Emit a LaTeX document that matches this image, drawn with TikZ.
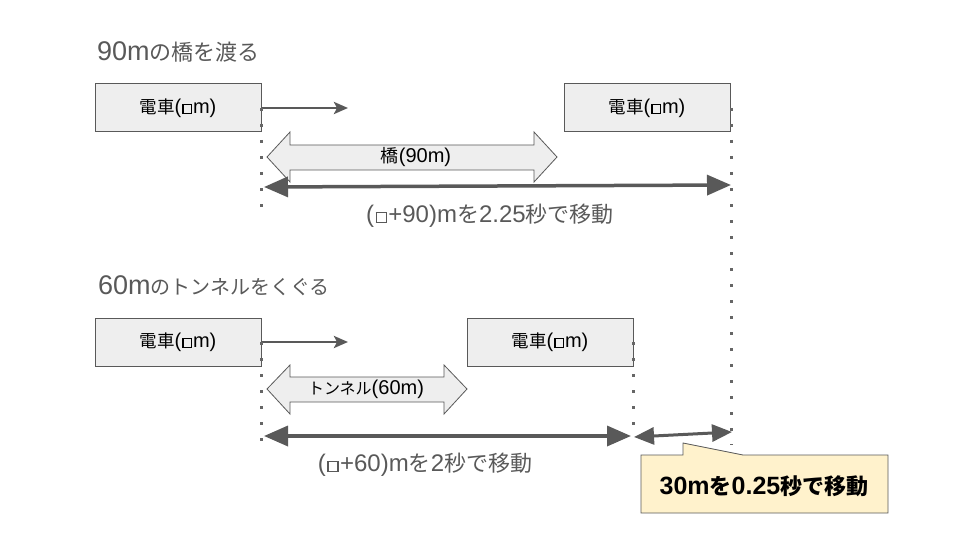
\documentclass[tikz,border=0pt]{standalone}
\usepackage{fontspec}
\setmainfont{Liberation Sans}
\newfontfamily\jpfont{Noto Sans CJK JP}
\usetikzlibrary{arrows.meta}
\definecolor{dk}{HTML}{595959}
\definecolor{dotc}{HTML}{666666}
\definecolor{boxfill}{HTML}{EEEEEE}
\definecolor{notefill}{HTML}{FFF2CC}
% Japanese run at a given size (px)
\newcommand\cjkt[2]{{\fontsize{#1}{#1}\selectfont\jpfont #2}}
% small white square
\newcommand\sqmark{\kern0.06em\raisebox{0.03em}{\setlength{\fboxsep}{0pt}\setlength{\fboxrule}{0.055em}\fbox{\rule{0pt}{0.36em}\rule{0.36em}{0pt}}}\kern0.06em}
\tikzset{
  train/.style={draw=dk, line width=1pt, fill=boxfill, minimum width=166pt, minimum height=48pt, inner sep=0pt, font=\fontsize{20}{24}\selectfont},
  titletext/.style={anchor=west, text=dk, font=\fontsize{27}{32}\selectfont, inner sep=0pt},
  lbl/.style={text=dk, font=\fontsize{24}{28}\selectfont, inner sep=0pt},
  innerlbl/.style={text=black, font=\fontsize{20}{24}\selectfont, inner sep=0pt},
  go/.style={draw=dk, line width=2.8pt, -{Stealth[length=14pt,width=12pt,inset=3pt]}},
  span/.style={draw=dk, line width=3.5pt, {Triangle[length=24pt,width=20pt]}-{Triangle[length=24pt,width=20pt]}},
  spansmall/.style={draw=dk, line width=3pt, {Triangle[length=20pt,width=17pt]}-{Triangle[length=20pt,width=17pt]}},
  guide/.style={draw=dotc, line width=3pt, dash pattern=on 3pt off 13pt},
  dblarrow/.style={draw=dk, line width=0.8pt, fill=boxfill},
  note/.style={draw=dk, line width=0.8pt, fill=notefill},
}
\begin{document}
\begin{tikzpicture}[x=1pt,y=-1pt]
\useasboundingbox (0,0) rectangle (960,540);

% ---------- top section ----------
\node[titletext] (t1) at (97,52) {90m\cjkt{22}{の橋を渡る}};
\node[train] (a1) at (178,108) {\cjkt{17.5}{電車}(\sqmark m)};
\node[train] (b1) at (647,108) {\cjkt{17.5}{電車}(\sqmark m)};

\coordinate (a1g) at (348,108);
\draw[go] (a1.east) -- (a1g);

\coordinate (a1d) at (261,208);
\coordinate (b1d) at (731,445);
\draw[guide] (261,108) -- (a1d);
\draw[guide] (731,108) -- (b1d);

% bridge double arrow
\draw[dblarrow] (267,157) -- (290,132) -- (290,145) -- (534,145) -- (534,132) -- (557,157)
  -- (534,182) -- (534,170) -- (290,170) -- (290,182) -- cycle;
\node[innerlbl] (br) at (416,157) {\cjkt{18}{橋}(90m)};

\coordinate (s1a) at (264,187);
\coordinate (s1b) at (731,185);
\draw[span] (s1a) -- (s1b);
\node[lbl] (l1) at (490,216) {(\sqmark+90)m\cjkt{22}{を}2.25\cjkt{22}{秒で移動}};

% ---------- bottom section ----------
\node[titletext] (t2) at (98,286) {60m\cjkt{20}{のトンネルをくぐる}};
\node[train] (a2) at (178,342) {\cjkt{17.5}{電車}(\sqmark m)};
\node[train] (b2) at (550,342) {\cjkt{17.5}{電車}(\sqmark m)};

\coordinate (a2g) at (348,342);
\draw[go] (a2.east) -- (a2g);

\coordinate (a2d) at (261,442);
\coordinate (b2d) at (633,432);
\draw[guide] (261,342) -- (a2d);
\draw[guide] (633,342) -- (b2d);

% tunnel double arrow
\draw[dblarrow] (267,389) -- (290,365) -- (290,377) -- (444,377) -- (444,365) -- (467,389)
  -- (444,414) -- (444,402) -- (290,402) -- (290,414) -- cycle;
\node[innerlbl] (tn) at (366,389) {\cjkt{16}{トンネル}(60m)};

\coordinate (s2a) at (264,436);
\coordinate (s2b) at (631,436);
\draw[span] (s2a) -- (s2b);
\node[lbl] (l2) at (425,465) {(\sqmark+60)m\cjkt{22}{を}2\cjkt{22}{秒で移動}};

\coordinate (s3a) at (634,437);
\coordinate (s3b) at (732,432);
\draw[spansmall] (s3a) -- (s3b);

% callout
\draw[note] (641,455) -- (683,455) -- (683,443) -- (743,455) -- (888,455) -- (888,513) -- (641,513) -- cycle;
\node[font=\fontsize{25}{28}\selectfont\bfseries, inner sep=0pt] (nt) at (764,486) {30m\cjkt{22}{\bfseries を}0.25\cjkt{22}{\bfseries 秒で移動}};
\end{tikzpicture}
\end{document}
